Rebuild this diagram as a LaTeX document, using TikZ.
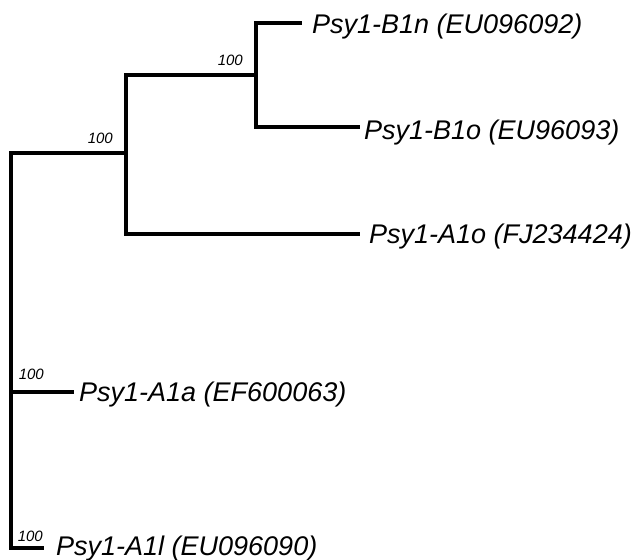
\documentclass[tikz,border=0pt]{standalone}
\usepackage{fontspec}
\setmainfont{Liberation Sans}
\begin{document}
\begin{tikzpicture}[x=1pt,y=-1pt,
  branch/.style={line width=3.6pt,line cap=rect,line join=miter},
  leaf/.style={anchor=base west,inner sep=0pt,font=\fontsize{27}{31}\selectfont\itshape},
  boot/.style={anchor=base east,inner sep=0pt,font=\fontsize{15}{18}\selectfont\itshape}]
\useasboundingbox (0,0) rectangle (633,560);
% tree coordinates
\coordinate (R) at (11,548);
\coordinate (C1) at (126,153);
\coordinate (C1t) at (126,75);
\coordinate (C2) at (256,75);
\coordinate (RA) at (11,392);
\coordinate (lB1n) at (300,23);
\coordinate (lB1o) at (358,127);
\coordinate (lA1o) at (358,234);
\coordinate (lA1a) at (72,392);
\coordinate (lA1l) at (42,548);
% branches
\draw[branch] (lB1n) -| (C2) |- (lB1o);
\draw[branch] (C2) -| (C1t) |- (lA1o);
\draw[branch] (C1) -| (R) |- (lA1l);
\draw[branch] (RA) -- (lA1a);
% leaf labels
\node[leaf] (tB1n) at (312,33) {Psy1-B1n (EU096092)};
\node[leaf] (tB1o) at (364,139) {Psy1-B1o (EU96093)};
\node[leaf] (tA1o) at (369,243) {Psy1-A1o (FJ234424)};
\node[leaf] (tA1a) at (79,401) {Psy1-A1a (EF600063)};
\node[leaf] (tA1l) at (56,555) {Psy1-A1l (EU096090)};
% bootstrap values
\node[boot] (b1) at (113,143) {100};
\node[boot] (b2) at (243,65) {100};
\node[boot] (b3) at (44,379) {100};
\node[boot] (b4) at (43,541) {100};
\end{tikzpicture}
\end{document}
